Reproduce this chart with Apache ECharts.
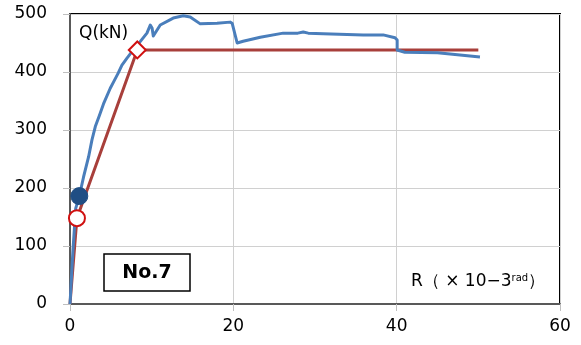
<!DOCTYPE html>
<html>
<head>
<meta charset="utf-8">
<script src="https://cdn.jsdelivr.net/npm/echarts@6/dist/echarts.min.js"></script>
<style>html,body{margin:0;padding:0;background:#fff}#c{width:581px;height:345px}</style>
</head>
<body>
<div id="c"></div>
<script>
// Measured curve (R x10^-3 rad, Q kN)
const measuredR = [0, 0.35, 0.7, 1.14, 1.66, 2.28, 2.69, 3.1, 3.6, 4.1, 4.93, 5.34, 5.9, 6.36, 6.98, 7.59, 8.4, 9.42, 9.83, 10.05, 10.2, 11.05, 12.64, 13.87, 14.72, 15.95, 18.0, 19.6, 19.86, 20.47, 21.2, 23.3, 26.1, 27.9, 28.56, 29.17, 31.0, 35.9, 38.35, 39.8, 40.06, 40.06, 41.0, 45.0, 50.2];
const measuredQ = [0, 90, 165, 186, 219, 254, 283, 306, 325, 345, 372, 383, 398, 412, 424, 435, 449, 467, 481, 476, 462, 481, 493, 497, 495, 483, 484, 486, 484, 450, 453, 460, 467, 467, 469, 467, 466, 464, 464, 459, 455, 438, 434, 433, 426];
// Model (trilinear) curve
const modelR = [0, 0.85, 8.24, 50];
const modelQ = [0, 148, 438, 438];
// Marked points
const crackR = [1.14], crackQ = [186];
const modelCrackR = [0.85], modelCrackQ = [148];
const yieldR = [8.24], yieldQ = [438];
const xTicks = [0, 20, 40, 60];
const yTicks = [0, 100, 200, 300, 400, 500];

const zip = (a, b) => a.map((v, i) => [v, b[i]]);
const chart = echarts.init(document.getElementById('c'), null, {renderer: 'canvas'});
const font = "'DejaVu Sans', 'Noto Sans', sans-serif";
chart.setOption({
  animation: false,
  grid: {left: 70, right: 21, top: 14, bottom: 41, show: true, borderColor: '#000', borderWidth: 2, backgroundColor: 'transparent'},
  xAxis: {
    type: 'value', min: xTicks[0], max: xTicks[xTicks.length - 1], interval: 20,
    axisLine: {show: true, lineStyle: {color: '#595959', width: 2}},
    axisTick: {show: true, length: 7, lineStyle: {color: '#bfbfbf'}},
    axisLabel: {color: '#000', fontSize: 17, fontFamily: font, margin: 14},
    splitLine: {show: true, lineStyle: {color: '#d0d0d0', width: 1}}
  },
  yAxis: {
    type: 'value', min: yTicks[0], max: yTicks[yTicks.length - 1], interval: 100,
    axisLine: {show: true, lineStyle: {color: '#595959', width: 2}},
    axisTick: {show: true, length: 7, lineStyle: {color: '#bfbfbf'}},
    axisLabel: {color: '#000', fontSize: 17, fontFamily: font, margin: 23},
    splitLine: {show: true, lineStyle: {color: '#d0d0d0', width: 1}}
  },
  series: [
    {type: 'line', data: zip(modelR, modelQ), showSymbol: false, lineStyle: {color: '#A83F3B', width: 3}, z: 2},
    {type: 'line', data: zip(measuredR, measuredQ), showSymbol: false, lineStyle: {color: '#4A7EBB', width: 3, join: 'round'}, z: 3},
    {type: 'scatter', data: zip(modelCrackR, modelCrackQ), symbol: 'circle', symbolSize: 16, itemStyle: {color: '#fff', borderColor: '#D01010', borderWidth: 2, opacity: 1}, z: 4},
    {type: 'scatter', data: zip(yieldR, yieldQ), symbol: 'diamond', symbolSize: [17, 17], itemStyle: {color: '#fff', borderColor: '#D01010', borderWidth: 2, opacity: 1}, z: 4},
    {type: 'scatter', data: zip(crackR, crackQ), symbol: 'circle', symbolSize: 17, itemStyle: {color: '#1F4E84', borderColor: '#1F4E84', opacity: 1}, z: 5}
  ],
  graphic: [
    {type: 'text', left: 79, top: 25, style: {text: 'Q(kN)', font: "17px " + font, fill: '#000'}, z: 10},
    {type: 'text', left: 411, top: 273, style: {
      text: '{a|R（ × 10−3}{s|rad}{a|）}',
      rich: {a: {fontSize: 17, fontFamily: font, color: '#000'}, s: {fontSize: 10, fontFamily: font, color: '#000', verticalAlign: 'top', padding: [0,0,8,0]}}
    }, z: 10},
    {type: 'rect', shape: {x: 104, y: 254, width: 86, height: 37}, style: {fill: '#fff', stroke: '#000', lineWidth: 1.5}, z: 10},
    {type: 'text', x: 147, y: 273, style: {text: 'No.7', font: "bold 19px " + font, fill: '#000', align: 'center', verticalAlign: 'middle'}, z: 11}
  ]
});
</script>
</body>
</html>
